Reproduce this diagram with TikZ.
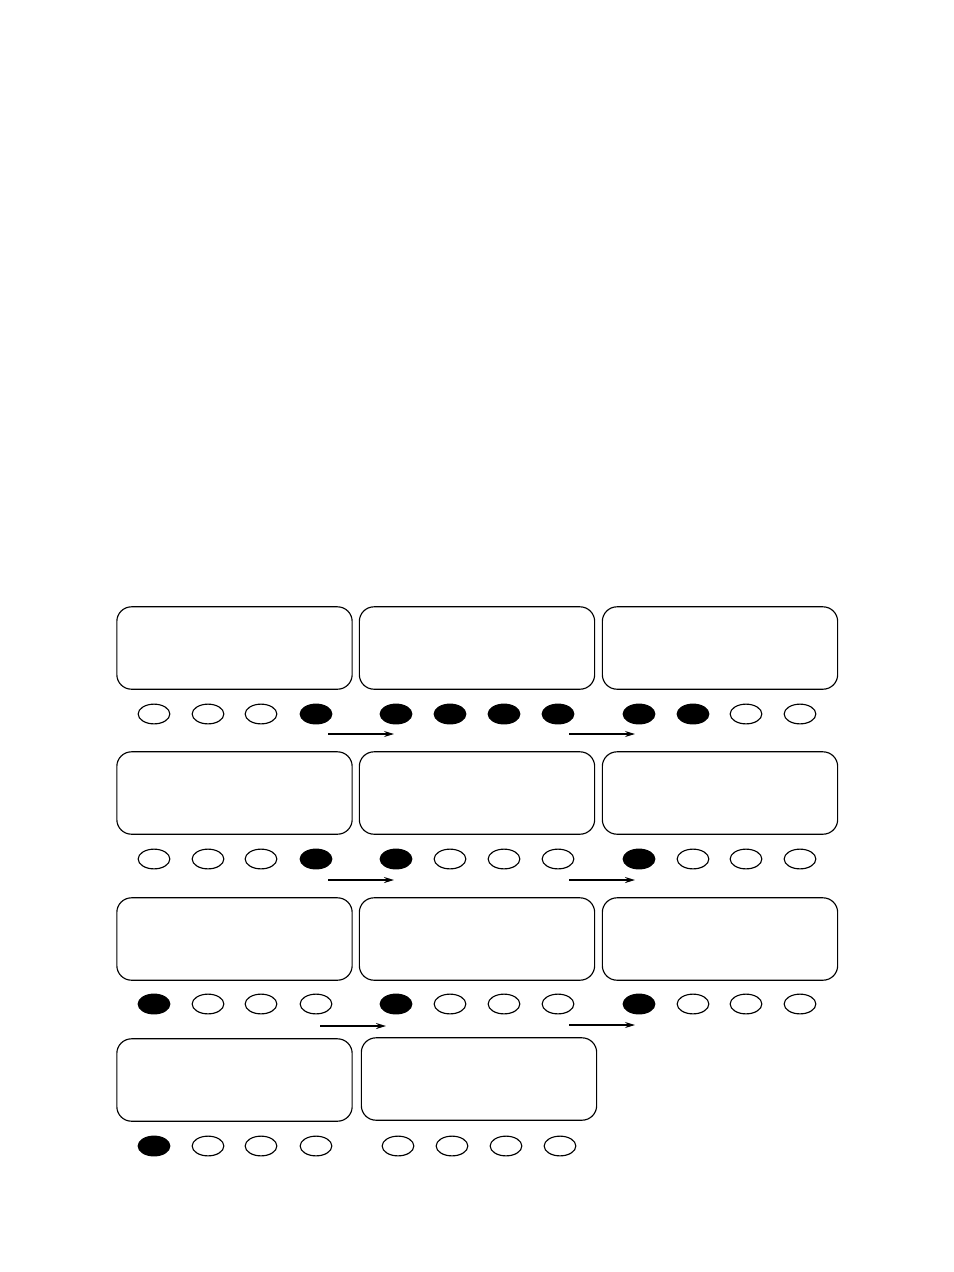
\documentclass[tikz,border=0pt]{standalone}
\usepackage{tikz}
\usetikzlibrary{shapes.geometric,arrows.meta}

\begin{document}
\begin{tikzpicture}[x=0.75pt,y=-0.75pt,line width=0.3mm]
  \tikzset{
    panel/.style={draw,rounded corners=11pt,minimum width=176.5pt,minimum height=61.8pt,inner sep=0pt},
    lampoff/.style={draw,ellipse,minimum width=23.8pt,minimum height=14.8pt,inner sep=0pt},
    lampon/.style={lampoff,fill=black},
    flow/.style={-{Stealth[length=7.5pt,width=4.5pt]},line width=0.8pt},
    boldflow/.style={flow,line width=1.3pt}
  }
  \useasboundingbox (0,0) rectangle (954,1272);

  \node[panel] (B11) at (234.5, 648) {};
  \node[panel] (B12) at (477,   648) {};
  \node[panel] (B13) at (720,   648) {};
  \node[panel] (B21) at (234.5, 793) {};
  \node[panel] (B22) at (477,   793) {};
  \node[panel] (B23) at (720,   793) {};
  \node[panel] (B31) at (234.5, 939) {};
  \node[panel] (B32) at (477,   939) {};
  \node[panel] (B33) at (720,   939) {};
  \node[panel] (B41) at (234.5, 1080) {};
  \node[panel] (B42) at (479,   1079) {};

  \foreach \x/\s [count=\i] in {154/lampoff,208/lampoff,261/lampoff,316/lampon,
      396/lampon,450/lampon,504/lampon,558/lampon,639/lampon,693/lampon,746/lampoff,800/lampoff}
    \node[\s] (L1\i) at (\x, 714) {};
  \foreach \x/\s [count=\i] in {154/lampoff,208/lampoff,261/lampoff,316/lampon,
      396/lampon,450/lampoff,504/lampoff,558/lampoff,639/lampon,693/lampoff,746/lampoff,800/lampoff}
    \node[\s] (L2\i) at (\x, 859) {};
  \foreach \x/\s [count=\i] in {154/lampon,208/lampoff,261/lampoff,316/lampoff,
      396/lampon,450/lampoff,504/lampoff,558/lampoff,639/lampon,693/lampoff,746/lampoff,800/lampoff}
    \node[\s] (L3\i) at (\x, 1004) {};
  \foreach \x/\s [count=\i] in {154/lampon,208/lampoff,261/lampoff,316/lampoff,
      398/lampoff,452/lampoff,506/lampoff,560/lampoff}
    \node[\s] (L4\i) at (\x, 1146) {};

  \coordinate (S11) at (328, 734);  \coordinate (T11) at (394, 734);
  \coordinate (S12) at (569, 734);  \coordinate (T12) at (635, 734);
  \coordinate (S21) at (328, 880);  \coordinate (T21) at (394, 880);
  \coordinate (S22) at (569, 880);  \coordinate (T22) at (635, 880);
  \coordinate (S31) at (320, 1026); \coordinate (T31) at (386, 1026);
  \coordinate (S32) at (569, 1025); \coordinate (T32) at (635, 1025);

  \draw[flow]     (S11) -- (T11);
  \draw[flow]     (S12) -- (T12);
  \draw[boldflow] (S21) -- (T21);
  \draw[boldflow] (S22) -- (T22);
  \draw[boldflow] (S31) -- (T31);
  \draw[flow]     (S32) -- (T32);
\end{tikzpicture}
\end{document}
